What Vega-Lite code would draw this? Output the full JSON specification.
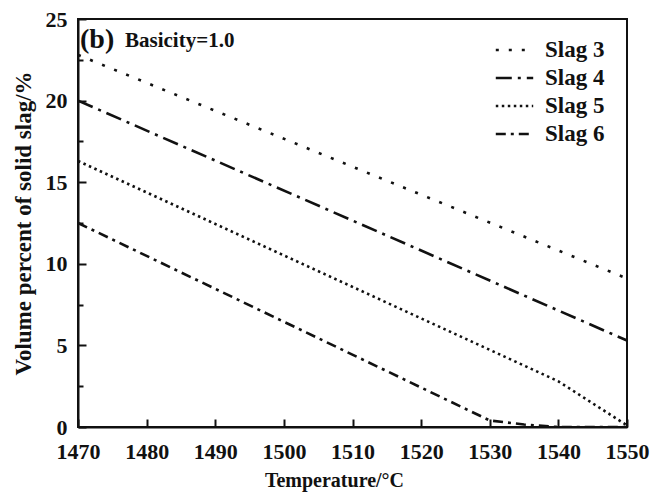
{
  "$schema": "https://vega.github.io/schema/vega-lite/v6.json",
  "width": 549,
  "height": 408,
  "autosize": {"type": "none"},
  "padding": {"left": 78, "top": 19, "right": 35, "bottom": 69},
  "background": "white",
  "config": {
    "view": {"stroke": "#111", "strokeWidth": 2},
    "font": "Liberation Serif",
    "axis": {
      "zindex": 1,
      "domainColor": "#111",
      "domainWidth": 2,
      "tickColor": "#111",
      "tickWidth": 2,
      "grid": false,
      "labelFlush": false,
      "labelOverlap": false,
      "labelFont": "Liberation Serif",
      "labelFontWeight": "bold",
      "labelFontSize": 22,
      "labelColor": "#111",
      "titleFont": "Liberation Serif",
      "titleFontWeight": "bold",
      "titleColor": "#111"
    }
  },
  "data": {
    "values": [
      {"temp": 1470, "vol": 22.8, "slag": "Slag 3"},
      {"temp": 1550, "vol": 9.1, "slag": "Slag 3"},
      {"temp": 1470, "vol": 20.0, "slag": "Slag 4"},
      {"temp": 1550, "vol": 5.3, "slag": "Slag 4"},
      {"temp": 1470, "vol": 16.3, "slag": "Slag 5"},
      {"temp": 1540, "vol": 2.8, "slag": "Slag 5"},
      {"temp": 1550, "vol": 0.1, "slag": "Slag 5"},
      {"temp": 1470, "vol": 12.5, "slag": "Slag 6"},
      {"temp": 1530, "vol": 0.4, "slag": "Slag 6"},
      {"temp": 1535, "vol": 0.15, "slag": "Slag 6"},
      {"temp": 1540, "vol": 0.0, "slag": "Slag 6"},
      {"temp": 1550, "vol": 0.0, "slag": "Slag 6"}
    ]
  },
  "layer": [
    {
      "mark": {"type": "line", "color": "#111", "strokeWidth": 2.6, "strokeCap": "butt", "clip": true},
      "encoding": {
        "x": {
          "field": "temp",
          "type": "quantitative",
          "scale": {"domain": [1470, 1550], "nice": false, "zero": false},
          "axis": {
            "title": "Temperature/°C",
            "titleFontSize": 20,
            "titleX": 256,
            "values": [1470, 1475, 1480, 1485, 1490, 1495, 1500, 1505, 1510, 1515, 1520, 1525, 1530, 1535, 1540, 1545, 1550],
            "labelExpr": "datum.value % 10 === 0 ? datum.label : ''",
            "tickSize": {"condition": {"test": "datum.value % 10 === 0", "value": -8}, "value": -5},
            "labelPadding": 22,
            "titlePadding": 8,
            "format": "d"
          }
        },
        "y": {
          "field": "vol",
          "type": "quantitative",
          "scale": {"domain": [0, 25], "nice": false},
          "axis": {
            "title": "Volume percent of solid slag/%",
            "titleFontSize": 23,
            "values": [0, 2.5, 5, 7.5, 10, 12.5, 15, 17.5, 20, 22.5, 25],
            "labelExpr": "datum.value % 5 === 0 ? datum.label : ''",
            "tickSize": {"condition": {"test": "datum.value % 5 === 0", "value": -8}, "value": -5},
            "labelPadding": 19,
            "titlePadding": 10
          }
        },
        "detail": {"field": "slag"},
        "strokeDash": {
          "field": "slag",
          "type": "nominal",
          "scale": {
            "domain": ["Slag 3", "Slag 4", "Slag 5", "Slag 6"],
            "range": [[3, 10], [16, 6, 3, 6], [2.5, 3.5], [10, 5, 3, 5]]
          },
          "legend": {
            "title": null,
            "orient": "none",
            "legendX": 416,
            "legendY": 19,
            "symbolType": "stroke",
            "symbolStrokeColor": "#111",
            "symbolStrokeWidth": 2.6,
            "symbolSize": 1400,
            "clipHeight": 24,
            "labelFont": "Liberation Serif",
            "labelFontWeight": "bold",
            "labelFontSize": 23,
            "labelColor": "#111",
            "labelOffset": 10,
            "rowPadding": 4
          }
        }
      }
    },
    {
      "data": {"values": [{"temp": 1470, "vol": 25, "label": "(b)"}]},
      "mark": {"type": "text", "align": "left", "baseline": "top", "dx": 2, "dy": 7, "font": "Liberation Serif", "fontWeight": "bold", "fontSize": 28, "color": "#111"},
      "encoding": {
        "x": {"field": "temp", "type": "quantitative"},
        "y": {"field": "vol", "type": "quantitative"},
        "text": {"field": "label"}
      }
    },
    {
      "data": {"values": [{"temp": 1470, "vol": 25, "label": "Basicity=1.0"}]},
      "mark": {"type": "text", "align": "left", "baseline": "top", "dx": 47, "dy": 11, "font": "Liberation Serif", "fontWeight": "bold", "fontSize": 21, "color": "#111"},
      "encoding": {
        "x": {"field": "temp", "type": "quantitative"},
        "y": {"field": "vol", "type": "quantitative"},
        "text": {"field": "label"}
      }
    }
  ]
}
